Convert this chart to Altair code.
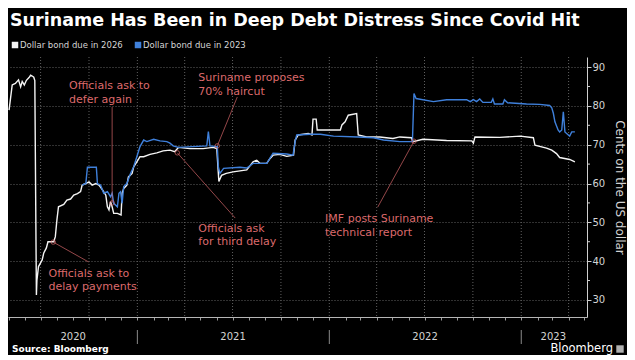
import altair as alt
import pandas as pd

TITLE = "Suriname Has Been in Deep Debt Distress Since Covid Hit"
SERIES_2026 = "Dollar bond due in 2026"
SERIES_2023 = "Dollar bond due in 2023"
SOURCE = "Source: Bloomberg"
BRAND = "Bloomberg"
Y_TITLE = "Cents on the US dollar"

dates_2026 = [
    "2020-05-02", "2020-05-08", "2020-05-14", "2020-05-20", "2020-05-24", "2020-05-27", "2020-05-31",
    "2020-06-04", "2020-06-09", "2020-06-12", "2020-06-15", "2020-06-18", "2020-06-20", "2020-06-23",
    "2020-06-24", "2020-06-27", "2020-07-04", "2020-07-07", "2020-07-12", "2020-07-15", "2020-07-26",
    "2020-07-29", "2020-08-01", "2020-08-04", "2020-08-14", "2020-08-20", "2020-08-27", "2020-09-02",
    "2020-09-09", "2020-09-15", "2020-09-18", "2020-09-25", "2020-10-01", "2020-10-07", "2020-10-14",
    "2020-10-20", "2020-10-27", "2020-11-02", "2020-11-05", "2020-11-08", "2020-11-11", "2020-11-14",
    "2020-11-17", "2020-11-24", "2020-12-01", "2020-12-03", "2020-12-06", "2020-12-12", "2020-12-15",
    "2020-12-22", "2020-12-25", "2020-12-31",
    "2021-01-06", "2021-01-13", "2021-01-25", "2021-02-07", "2021-02-19", "2021-03-04", "2021-03-13",
    "2021-03-20", "2021-04-11", "2021-05-06", "2021-05-25", "2021-06-01", "2021-06-04", "2021-06-05",
    "2021-06-10", "2021-06-19", "2021-07-02", "2021-07-28", "2021-08-09", "2021-08-16", "2021-08-22",
    "2021-09-04", "2021-09-10", "2021-09-16", "2021-09-29", "2021-10-12", "2021-10-25", "2021-10-28",
    "2021-11-03", "2021-11-22", "2021-11-29", "2021-12-01", "2021-12-07", "2021-12-09",
    "2022-01-22", "2022-01-25", "2022-01-31", "2022-02-06", "2022-02-22", "2022-02-25", "2022-03-13",
    "2022-04-07", "2022-05-02", "2022-05-15", "2022-06-06", "2022-06-09", "2022-06-28", "2022-08-12",
    "2022-09-29", "2022-10-02", "2022-10-05", "2022-11-21", "2022-12-30",
    "2023-01-24", "2023-01-27", "2023-02-18", "2023-02-28", "2023-03-09", "2023-03-15", "2023-04-03",
    "2023-04-13",
]
values_2026 = [
    78.9, 85.4, 85.8, 86.7, 84.9, 86.3, 85.4,
    86.6, 87.3, 87.9, 87.7, 87.4, 86.5, 31.3,
    35.1, 38.6, 40.3, 42.1, 43.4, 45.0, 45.0,
    46.3, 50.6, 54.0, 54.6, 55.7, 56.0, 57.0,
    57.4, 57.9, 59.6, 60.0, 60.4, 59.6, 60.0,
    59.6, 58.3, 57.0, 54.0, 53.2, 55.3, 54.0,
    52.3, 52.3, 51.9, 57.5, 58.7, 59.6, 61.7,
    62.6, 64.3, 65.6,
    66.9, 66.9, 67.5, 67.9, 68.4, 68.6, 68.2,
    69.3, 69.0, 69.0, 69.3, 69.0, 62.6, 60.5,
    62.1, 62.6, 63.0, 63.5, 65.6, 66.0, 65.2,
    65.2, 66.4, 67.3, 67.5, 67.0, 67.3, 71.2,
    72.5, 72.9, 72.5, 76.6, 76.6, 73.8,
    73.8, 75.1, 75.9, 77.6, 78.0, 72.5, 72.0,
    72.0, 71.6, 72.0, 71.8, 70.8, 71.4, 71.1,
    71.0, 70.4, 72.0, 71.9, 72.2,
    71.8, 69.9, 69.1, 68.6, 67.7, 66.7, 66.2,
    65.6,
]

dates_2023 = [
    "2020-09-18", "2020-09-25", "2020-09-28", "2020-10-15", "2020-10-17", "2020-10-23", "2020-10-29",
    "2020-11-05", "2020-11-11", "2020-11-14", "2020-11-17", "2020-11-24", "2020-11-27", "2020-11-30",
    "2020-12-03", "2020-12-06", "2020-12-12", "2020-12-19", "2020-12-25", "2020-12-31",
    "2021-01-06", "2021-01-13", "2021-01-19", "2021-02-01", "2021-02-13", "2021-02-26", "2021-03-04",
    "2021-03-10", "2021-03-20", "2021-05-13", "2021-05-16", "2021-05-19", "2021-06-02", "2021-06-04",
    "2021-06-07", "2021-06-14", "2021-07-15", "2021-07-28", "2021-08-09", "2021-09-04", "2021-09-16",
    "2021-10-12", "2021-10-24", "2021-10-28", "2021-10-31", "2021-11-26", "2021-12-15",
    "2022-01-09", "2022-02-25", "2022-03-26", "2022-04-14", "2022-05-15", "2022-06-08", "2022-06-11",
    "2022-06-15", "2022-07-18", "2022-08-12", "2022-09-19", "2022-09-26", "2022-10-02", "2022-10-08",
    "2022-10-14", "2022-10-20", "2022-11-05", "2022-11-08", "2022-11-11", "2022-11-27", "2022-11-30",
    "2022-12-06",
    "2023-01-11", "2023-02-05", "2023-02-24", "2023-02-28", "2023-03-03", "2023-03-06", "2023-03-12",
    "2023-03-15", "2023-03-19", "2023-03-22", "2023-03-25", "2023-04-03", "2023-04-07", "2023-04-13",
]
values_2023 = [
    59.6, 60.0, 64.2, 64.2, 60.0, 59.6, 57.5,
    57.9, 56.6, 57.5, 54.9, 54.0, 57.5, 57.9,
    54.9, 59.2, 60.0, 62.6, 64.3, 66.9,
    69.5, 71.2, 70.8, 71.4, 71.0, 70.8, 70.4,
    69.7, 69.3, 69.7, 73.4, 69.7, 69.5, 64.3,
    62.6, 63.9, 64.2, 64.0, 65.2, 65.2, 67.8,
    67.6, 67.3, 70.8, 72.5, 72.7, 72.7,
    72.2, 72.0, 71.8, 71.2, 70.8, 70.8, 83.2,
    81.9, 81.1, 81.6, 81.6, 81.1, 81.6, 81.1,
    81.8, 80.9, 80.9, 81.8, 80.5, 80.5, 81.6,
    80.8,
    80.5, 80.4, 80.1, 79.5, 78.1, 75.9, 73.8,
    73.3, 73.8, 78.5, 73.3, 72.2, 73.3, 73.3,
]

ann_labels = [
    "Officials ask to\ndelay payments",
    "Officials ask to\ndefer again",
    "Officials ask\nfor third delay",
    "Suriname proposes\n70% haircut",
    "IMF posts Suriname\ntechnical report",
]
ann_text_dates = ["2020-07-16", "2020-08-24", "2021-04-27", "2021-04-27", "2021-12-24"]
ann_text_values = [36.0, 84.3, 47.6, 86.4, 50.1]
ann_from_dates = ["2020-09-30", "2020-11-14", "2021-07-06", "2021-07-10", "2022-04-03"]
ann_from_values = [39.8, 79.7, 51.1, 82.3, 53.9]
ann_to_dates = ["2020-07-25", "2020-11-14", "2021-03-18", "2021-06-02", "2022-06-11"]
ann_to_values = [44.9, 55.0, 67.9, 69.7, 70.9]

year_labels = ["2020", "2021", "2022", "2023"]
year_label_dates = ["2020-09-01", "2021-07-02", "2022-07-02", "2023-03-03"]
year_starts = ["2021-01-01", "2022-01-01", "2023-01-01"]
quarter_starts = [
    "2020-07-01", "2020-10-01", "2021-01-01", "2021-04-01", "2021-07-01", "2021-10-01",
    "2022-01-01", "2022-04-01", "2022-07-01", "2022-10-01", "2023-01-01", "2023-04-01",
]
month_ticks = pd.date_range("2020-05-01", "2023-05-01", freq="MS")
y_major = [30, 40, 50, 60, 70, 80, 90]
y_minor = [35, 45, 55, 65, 75, 85]

FONT = "DejaVu Sans"
W, H = 579, 260
SALMON = "#dc6a6c"
BLUE = "#3f80db"
WHITE = "#f4f4f4"
GRID = "#606060"
AXIS_TXT = "#d4d4d4"

xscale = alt.Scale(domain=[alt.DateTime(year=2020, month=4, date=30),
                           alt.DateTime(year=2023, month=5, date=6)])
yscale = alt.Scale(domain=[25.6, 92.6], nice=False, zero=False)

x_axis = alt.Axis(title=None, labels=False, grid=False,
                  values=[alt.DateTime(year=d.year, month=d.month, date=1) for d in month_ticks],
                  tickSize=3, tickColor="#9a9a9a", domainColor="#b5b5b5")
y_axis = alt.Axis(orient="right", values=y_major,
                  grid=True, gridColor=GRID, gridDash=[1, 2],
                  tickSize=4, tickColor="#cfcfcf", domainColor="#cfcfcf",
                  labelColor=AXIS_TXT, labelFont=FONT, labelFontSize=10, labelPadding=1,
                  title=Y_TITLE, titleFont=FONT, titleFontSize=12, titleFontWeight="normal",
                  titleColor=AXIS_TXT, titleAngle=90, titlePadding=8)


def X(field):
    return alt.X(field, scale=xscale, axis=x_axis)


def Y(field):
    return alt.Y(field, scale=yscale, axis=y_axis)


df26 = pd.DataFrame({"date": pd.to_datetime(dates_2026), "price": values_2026})
df23 = pd.DataFrame({"date": pd.to_datetime(dates_2023), "price": values_2023})
df_ann = pd.DataFrame({
    "label": ann_labels,
    "tdate": pd.to_datetime(ann_text_dates), "tval": ann_text_values,
    "fdate": pd.to_datetime(ann_from_dates), "fval": ann_from_values,
    "edate": pd.to_datetime(ann_to_dates), "eval": ann_to_values,
})
df_years = pd.DataFrame({"label": year_labels, "date": pd.to_datetime(year_label_dates)})
df_sep = pd.DataFrame({"date": pd.to_datetime(year_starts)})
df_q = pd.DataFrame({"date": pd.to_datetime(quarter_starts)})
df_minor = pd.DataFrame({"v": y_minor})

line26 = alt.Chart(df26).mark_line(color=WHITE, strokeWidth=1.4).encode(
    x=X("date:T"), y=Y("price:Q"))
line23 = alt.Chart(df23).mark_line(color=BLUE, strokeWidth=1.4).encode(
    x=X("date:T"), y=Y("price:Q"))

qgrid = alt.Chart(df_q).mark_rule(color=GRID, strokeDash=[1, 2], strokeWidth=1).encode(
    x=X("date:T"))
minor = alt.Chart(df_minor).mark_rule(color="#cfcfcf", strokeWidth=1).encode(
    y=Y("v:Q"), x=alt.value(W), x2=alt.value(W + 3))

pointers = alt.Chart(df_ann).mark_rule(color=SALMON, strokeWidth=0.8, opacity=0.85).encode(
    x=X("fdate:T"), y=Y("fval:Q"), x2="edate:T", y2="eval:Q")
dots = alt.Chart(df_ann).mark_point(shape="circle", size=20, color=SALMON, strokeWidth=1,
                                    filled=False).encode(
    x=X("edate:T"), y=Y("eval:Q"))
ann_text = alt.Chart(df_ann).mark_text(font=FONT, fontSize=11, color=SALMON, align="left",
                                       baseline="alphabetic", lineBreak="\n",
                                       lineHeight=13.6).encode(
    x=X("tdate:T"), y=Y("tval:Q"), text="label:N")

seps = alt.Chart(df_sep).mark_rule(color="#8a8a8a", strokeWidth=1).encode(
    x=X("date:T"), y=alt.value(273), y2=alt.value(287))
years = alt.Chart(df_years).mark_text(font=FONT, fontSize=10, color=AXIS_TXT,
                                      baseline="middle").encode(
    x=X("date:T"), y=alt.value(280), text="label:N")

title = alt.Chart(pd.DataFrame({"t": [TITLE]})).mark_text(
    font=FONT, fontSize=17.5, fontWeight="bold", color="white", align="left",
    baseline="alphabetic").encode(x=alt.value(2), y=alt.value(-31), text="t:N")

legend_layers = []
for name, col, xpos in [(SERIES_2026, WHITE, 7), (SERIES_2023, BLUE, 130)]:
    d = pd.DataFrame({"t": [name]})
    legend_layers.append(alt.Chart(d).mark_square(size=42, color=col, opacity=1).encode(
        x=alt.value(xpos), y=alt.value(-12)))
    legend_layers.append(alt.Chart(d).mark_text(font=FONT, fontSize=8.5, color=AXIS_TXT,
                                                align="left", baseline="middle").encode(
        x=alt.value(xpos + 5), y=alt.value(-12), text="t:N"))

source = alt.Chart(pd.DataFrame({"t": [SOURCE]})).mark_text(
    font=FONT, fontSize=9, fontWeight="bold", color="white", align="left",
    baseline="middle").encode(x=alt.value(4), y=alt.value(292), text="t:N")
brand = alt.Chart(pd.DataFrame({"t": [BRAND]})).mark_text(
    font=FONT, fontSize=11.5, color="white", align="right",
    baseline="middle").encode(x=alt.value(605), y=alt.value(292), text="t:N")
logo = alt.Chart(pd.DataFrame({"t": [BRAND]})).mark_square(size=55, color="#b0b0b0",
                                                           opacity=1).encode(
    x=alt.value(612), y=alt.value(292))

chart = alt.layer(
    qgrid, line26, line23, minor, pointers, dots, ann_text, seps, years,
    title, *legend_layers, source, brand, logo
).properties(
    width=W, height=H,
    padding={"left": 0, "top": 49, "right": 40, "bottom": 38},
    autosize=alt.AutoSizeParams(type="none"),
    background="black",
).configure_view(stroke=None)

chart.save("out.html", embed_options={"renderer": "svg", "actions": False})
